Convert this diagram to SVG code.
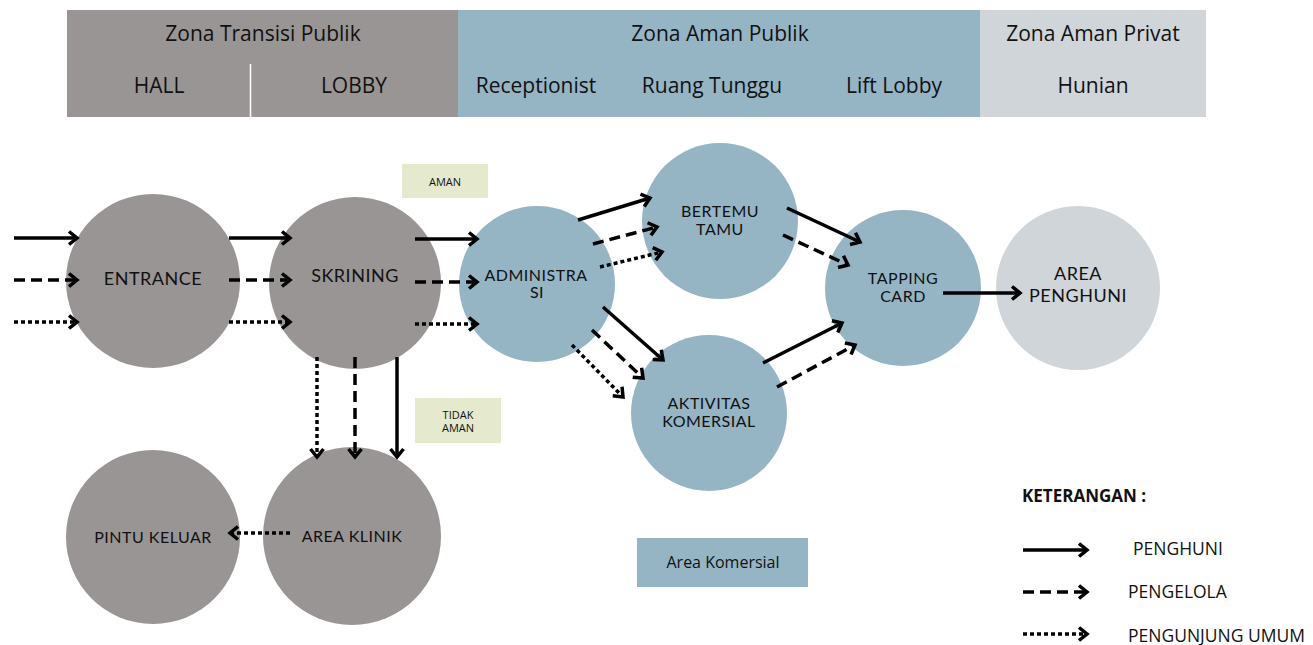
<svg xmlns="http://www.w3.org/2000/svg" width="1313" height="645" viewBox="0 0 1313 645">
  <style>
    .hdr { font-family: "Open Sans", "Noto Sans", sans-serif; font-size: 21px; fill: #111; text-anchor: middle; }
    .lbl { font-family: Lato, "Open Sans", sans-serif; font-size: 16px; fill: #111; text-anchor: middle; letter-spacing: 0.5px; }
    .big { font-size: 18px; }
    .tag { font-family: "Open Sans", "Noto Sans", sans-serif; font-size: 11px; fill: #111; text-anchor: middle; }
    .leg { font-family: "Open Sans", "Noto Sans", sans-serif; font-size: 17.5px; fill: #111; }
    .gray { fill: #999594; }
    .blue { fill: #95b5c5; }
    .light { fill: #cfd5d9; }
    .beige { fill: #e5eacf; }
    .c { fill: none; stroke: #000; stroke-width: 3.5; marker-end: url(#head); }
    .dash { stroke-dasharray: 11 6; }
    .dot { stroke-dasharray: 4 3; }
  </style>
  <defs>
    <marker id="head" markerUnits="userSpaceOnUse" markerWidth="14" markerHeight="16" refX="10" refY="7" orient="auto" overflow="visible">
      <path d="M2,0.5 L10,7 L2,13.5" fill="none" stroke="#000" stroke-width="3.5" stroke-linejoin="miter"/>
    </marker>
  </defs>

  <!-- zone header -->
  <g id="header">
    <rect x="67" y="10" width="391" height="107" class="gray"/>
    <rect x="458" y="10" width="522" height="107" class="blue"/>
    <rect x="980" y="10" width="226" height="107" class="light"/>
    <line x1="250.5" y1="64" x2="250.5" y2="117" stroke="#fff" stroke-width="1.5"/>
    <text class="hdr" x="263" y="41">Zona Transisi Publik</text>
    <text class="hdr" x="720" y="41">Zona Aman Publik</text>
    <text class="hdr" x="1093" y="41">Zona Aman Privat</text>
    <text class="hdr" x="159" y="93">HALL</text>
    <text class="hdr" x="354" y="93">LOBBY</text>
    <text class="hdr" x="536" y="93">Receptionist</text>
    <text class="hdr" x="712" y="93">Ruang Tunggu</text>
    <text class="hdr" x="894" y="93">Lift Lobby</text>
    <text class="hdr" x="1093" y="93">Hunian</text>
  </g>

  <!-- nodes -->
  <g id="entrance">
    <circle cx="153" cy="281" r="87" class="gray"/>
    <text class="lbl big" x="153" y="285">ENTRANCE</text>
  </g>
  <g id="skrining">
    <circle cx="355" cy="283" r="86" class="gray"/>
    <text class="lbl big" x="355" y="282">SKRINING</text>
  </g>
  <g id="administrasi">
    <circle cx="537" cy="284" r="78" class="blue"/>
    <text class="lbl" x="536" y="281">ADMINISTRA</text>
    <text class="lbl" x="537" y="298">SI</text>
  </g>
  <g id="bertemu-tamu">
    <circle cx="720" cy="221" r="78" class="blue"/>
    <text class="lbl" x="720" y="217">BERTEMU</text>
    <text class="lbl" x="720" y="235">TAMU</text>
  </g>
  <g id="aktivitas-komersial">
    <circle cx="709" cy="413" r="78" class="blue"/>
    <text class="lbl" x="709" y="409">AKTIVITAS</text>
    <text class="lbl" x="709" y="427">KOMERSIAL</text>
  </g>
  <g id="tapping-card">
    <circle cx="903" cy="288" r="78" class="blue"/>
    <text class="lbl" x="903" y="284">TAPPING</text>
    <text class="lbl" x="903" y="302">CARD</text>
  </g>
  <g id="area-penghuni">
    <circle cx="1078" cy="288" r="82" class="light"/>
    <text class="lbl big" x="1078" y="280">AREA</text>
    <text class="lbl big" x="1078" y="302">PENGHUNI</text>
  </g>
  <g id="pintu-keluar">
    <circle cx="153" cy="537" r="87" class="gray"/>
    <text class="lbl" x="153" y="543">PINTU KELUAR</text>
  </g>
  <g id="area-klinik">
    <circle cx="352" cy="536" r="89" class="gray"/>
    <text class="lbl" x="352" y="542">AREA KLINIK</text>
  </g>

  <!-- zone tags -->
  <g id="tag-aman">
    <rect x="402" y="164" width="86" height="34" class="beige"/>
    <text class="tag" x="445" y="186">AMAN</text>
  </g>
  <g id="tag-tidak-aman">
    <rect x="415" y="398" width="86" height="45" class="beige"/>
    <text class="tag" x="458" y="418.5">TIDAK</text>
    <text class="tag" x="458" y="432">AMAN</text>
  </g>
  <g id="area-komersial">
    <rect x="637" y="538" width="171" height="49" class="blue"/>
    <text x="723" y="568" font-family="'Open Sans', 'Noto Sans', sans-serif" font-size="16" fill="#111" text-anchor="middle">Area Komersial</text>
  </g>

  <!-- connectors -->
  <g id="connectors">
    <!-- into entrance -->
    <line class="c" x1="14" y1="238" x2="77" y2="238"/>
    <line class="c dash" x1="14" y1="280" x2="77" y2="280"/>
    <line class="c dot" x1="14" y1="322" x2="77" y2="322"/>
    <!-- entrance to skrining -->
    <line class="c" x1="229" y1="238" x2="290" y2="238"/>
    <line class="c dash" x1="229" y1="280" x2="290" y2="280"/>
    <line class="c dot" x1="229" y1="322" x2="290" y2="322"/>
    <!-- skrining to administrasi -->
    <line class="c" x1="415" y1="239" x2="477" y2="239"/>
    <line class="c dash" x1="415" y1="282" x2="477" y2="282"/>
    <line class="c dot" x1="415" y1="324" x2="477" y2="324"/>
    <!-- administrasi to bertemu tamu -->
    <line class="c" x1="578" y1="220" x2="650" y2="198"/>
    <line class="c dash" x1="593" y1="244" x2="657" y2="227"/>
    <line class="c dot" x1="600" y1="267" x2="662" y2="252"/>
    <!-- administrasi to aktivitas komersial -->
    <line class="c" x1="603" y1="307" x2="663" y2="360"/>
    <line class="c dash" x1="592" y1="330" x2="643" y2="378"/>
    <line class="c dot" x1="572" y1="345" x2="623" y2="397"/>
    <!-- bertemu tamu to tapping card -->
    <line class="c" x1="787" y1="208" x2="860" y2="242"/>
    <line class="c dash" x1="783" y1="235" x2="848" y2="265"/>
    <!-- aktivitas komersial to tapping card -->
    <line class="c" x1="763" y1="363" x2="842" y2="323"/>
    <line class="c dash" x1="777" y1="387" x2="855" y2="345"/>
    <!-- tapping card to area penghuni -->
    <line class="c" x1="943" y1="293" x2="1020" y2="293"/>
    <!-- skrining to area klinik -->
    <line class="c dot" x1="317" y1="357" x2="317" y2="457"/>
    <line class="c dash" x1="355" y1="357" x2="355" y2="457"/>
    <line class="c" x1="397" y1="357" x2="397" y2="457"/>
    <!-- area klinik to pintu keluar -->
    <line class="c dot" x1="290" y1="533" x2="230" y2="533"/>
  </g>

  <!-- legend -->
  <g id="legend">
    <text x="1022" y="502" font-family="'Open Sans', 'Noto Sans', sans-serif" font-size="17" font-weight="bold" fill="#111">KETERANGAN :</text>
    <line class="c" x1="1023" y1="550" x2="1087" y2="550"/>
    <line class="c dash" x1="1023" y1="592" x2="1087" y2="592"/>
    <line class="c dot" x1="1023" y1="634" x2="1087" y2="634"/>
    <text class="leg" x="1133" y="555">PENGHUNI</text>
    <text class="leg" x="1128" y="598">PENGELOLA</text>
    <text class="leg" x="1128" y="642">PENGUNJUNG UMUM</text>
  </g>
</svg>
